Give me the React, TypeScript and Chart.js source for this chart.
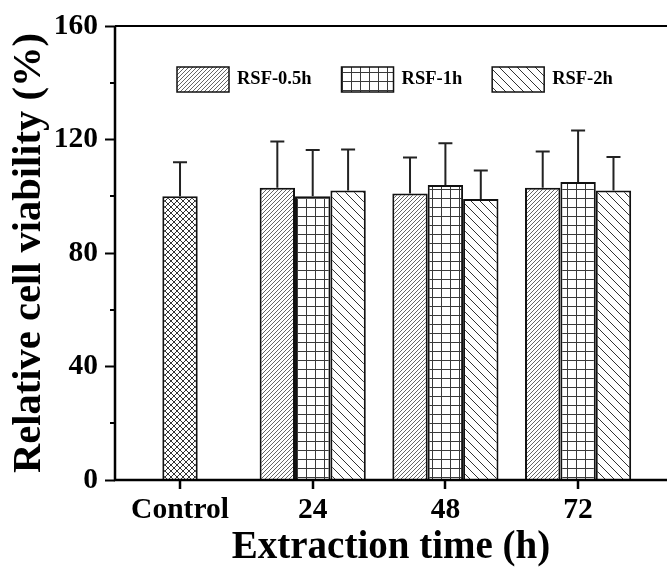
import React, { useEffect, useRef } from 'react';
import { Chart, registerables } from 'chart.js';

Chart.register(...registerables);

const categories = ['Control', '24', '48', '72'];
const seriesLabels = ['Control', 'RSF-0.5h', 'RSF-1h', 'RSF-2h'];
const controlValues = [100, null, null, null];
const controlErrors = [12, null, null, null];
const rsf05Values = [null, 103, 101, 103];
const rsf05Errors = [null, 16.3, 12.7, 12.8];
const rsf1Values = [null, 100, 104, 105];
const rsf1Errors = [null, 16.3, 14.7, 18.2];
const rsf2Values = [null, 102, 99, 102];
const rsf2Errors = [null, 14.5, 10.1, 11.8];
const yMinorTicks = [20, 60, 100, 140];
const xTitle = 'Extraction time (h)';
const yTitle = 'Relative cell viability (%)';

const FONT = "'Liberation Serif', 'Times New Roman', Times, serif";

function makePattern(kind: string): CanvasPattern | string {
  const c = document.createElement('canvas');
  let s = 6;
  if (kind === 'fwd') s = 4;
  if (kind === 'back') s = 9;
  if (kind === 'grid') s = 9;
  c.width = s;
  c.height = s;
  const ctx = c.getContext('2d');
  if (!ctx) return '#fff';
  ctx.fillStyle = '#fff';
  ctx.fillRect(0, 0, s, s);
  ctx.lineWidth = 1;
  const fwd = (col: string) => {
    ctx.strokeStyle = col;
    ctx.beginPath();
    ctx.moveTo(0, s); ctx.lineTo(s, 0);
    ctx.moveTo(-1, 1); ctx.lineTo(1, -1);
    ctx.moveTo(s - 1, s + 1); ctx.lineTo(s + 1, s - 1);
    ctx.stroke();
  };
  const back = (col: string) => {
    ctx.strokeStyle = col;
    ctx.beginPath();
    ctx.moveTo(0, 0); ctx.lineTo(s, s);
    ctx.moveTo(-1, s - 1); ctx.lineTo(1, s + 1);
    ctx.moveTo(s - 1, -1); ctx.lineTo(s + 1, 1);
    ctx.stroke();
  };
  if (kind === 'cross') { fwd('#333'); back('#333'); }
  if (kind === 'fwd') fwd('#666');
  if (kind === 'back') back('#333');
  if (kind === 'grid') {
    ctx.strokeStyle = '#3a3a3a';
    ctx.beginPath();
    ctx.moveTo(0.5, 0); ctx.lineTo(0.5, s);
    ctx.moveTo(0, 0.5); ctx.lineTo(s, 0.5);
    ctx.stroke();
  }
  return ctx.createPattern(c, 'repeat') || '#fff';
}

export default function App() {
  const ref = useRef<HTMLCanvasElement | null>(null);
  useEffect(() => {
    const canvas = ref.current;
    if (!canvas) return;
    const valueSets = [controlValues, rsf05Values, rsf1Values, rsf2Values];
    const errorSets = [controlErrors, rsf05Errors, rsf1Errors, rsf2Errors];
    const kinds = ['cross', 'fwd', 'grid', 'back'];
    const patterns = kinds.map(makePattern);

    const datasets = valueSets.map((vals, di) => ({
      label: seriesLabels[di],
      data: vals.map((v, i) => ({ x: i, y: v })),
      backgroundColor: patterns[di],
      borderColor: '#111',
      borderWidth: 2,
      barPercentage: di === 0 ? 1 / 3 : 1,
      categoryPercentage: 0.8,
      skipNull: true,
    }));

    const framePlugin = {
      id: 'framePlugin',
      afterDatasetsDraw(chart: any) {
        const { ctx, chartArea, scales } = chart;
        const ys = scales.y;
        const xs = scales.x;
        ctx.save();
        // error bars
        chart.data.datasets.forEach((ds: any, di: number) => {
          const meta = chart.getDatasetMeta(di);
          meta.data.forEach((el: any, i: number) => {
            const v = valueSets[di][i];
            const e = errorSets[di][i];
            if (v == null || e == null) return;
            const yTop = ys.getPixelForValue(v + e);
            const yBar = ys.getPixelForValue(v);
            ctx.strokeStyle = '#222';
            ctx.lineWidth = 2;
            ctx.beginPath();
            ctx.moveTo(el.x, yBar);
            ctx.lineTo(el.x, yTop);
            ctx.moveTo(el.x - 7, yTop);
            ctx.lineTo(el.x + 7, yTop);
            ctx.stroke();
          });
        });
        // axes and frame
        ctx.strokeStyle = '#000';
        ctx.lineWidth = 2.5;
        ctx.beginPath();
        ctx.moveTo(chartArea.left, chartArea.top);
        ctx.lineTo(chartArea.left, chartArea.bottom + 1.25);
        ctx.moveTo(chartArea.left - 1.25, chartArea.bottom);
        ctx.lineTo(chartArea.right, chartArea.bottom);
        ctx.stroke();
        ctx.lineWidth = 2;
        ctx.beginPath();
        ctx.moveTo(chartArea.left, chartArea.top);
        ctx.lineTo(chartArea.right, chartArea.top);
        ctx.stroke();
        // minor y ticks and x ticks
        ctx.lineWidth = 2;
        ctx.beginPath();
        yMinorTicks.forEach((t) => {
          const y = Math.round(ys.getPixelForValue(t));
          ctx.moveTo(chartArea.left - 5, y);
          ctx.lineTo(chartArea.left, y);
        });
        ctx.stroke();
        ctx.lineWidth = 2.5;
        ctx.beginPath();
        categories.forEach((_, i) => {
          const px = Math.round(xs.getPixelForValue(i));
          ctx.moveTo(px, chartArea.bottom);
          ctx.lineTo(px, chartArea.bottom + 9);
        });
        ctx.stroke();
        // legend
        let x = 177;
        const by = 67;
        ctx.font = `bold 18.5px ${FONT}`;
        ctx.textBaseline = 'alphabetic';
        ctx.textAlign = 'left';
        for (let di = 1; di < chart.data.datasets.length; di++) {
          const ds = chart.data.datasets[di];
          ctx.fillStyle = ds.backgroundColor;
          ctx.fillRect(x, by, 52, 25);
          ctx.strokeStyle = '#111';
          ctx.lineWidth = 1.5;
          ctx.strokeRect(x, by, 52, 25);
          ctx.fillStyle = '#000';
          ctx.fillText(ds.label, x + 60, by + 17);
          x += 60 + ctx.measureText(ds.label).width + 30;
        }
        ctx.restore();
      },
    };

    const chart = new Chart(canvas, {
      type: 'bar',
      data: { datasets: datasets as any },
      options: {
        animation: false,
        responsive: false,
        maintainAspectRatio: false,
        devicePixelRatio: 1,
        layout: { padding: { left: 0, right: 0, top: 26, bottom: 0 } },
        plugins: { legend: { display: false }, tooltip: { enabled: false } },
        scales: {
          x: {
            type: 'linear',
            offset: false,
            min: -0.49,
            max: 3.67,
            afterBuildTicks: (scale: any) => {
              scale.ticks = categories.map((_, i) => ({ value: i }));
            },
            afterFit: (scale: any) => { scale.height = 87; },
            ticks: {
              callback: (v: any) => categories[Math.round(Number(v))] ?? '',
              font: { family: FONT, size: 29.5, weight: 'bold' },
              color: '#000',
              padding: 5,
              maxRotation: 0,
              autoSkip: false,
            },
            grid: { display: true, offset: false, drawOnChartArea: false, drawTicks: true, tickLength: 8, tickWidth: 0, tickColor: 'rgba(0,0,0,0)' },
            border: { display: false },
            title: {
              display: true,
              text: xTitle,
              font: { family: FONT, size: 39, weight: 'bold', lineHeight: 1 },
              color: '#000',
              padding: { top: 0, bottom: 0 },
            },
          },
          y: {
            type: 'linear',
            min: 0,
            max: 160,
            afterFit: (scale: any) => { scale.width = 115; },
            ticks: {
              stepSize: 40,
              font: { family: FONT, size: 29.5, weight: 'bold' },
              color: '#000',
              padding: 7,
            },
            grid: { display: true, drawOnChartArea: false, drawTicks: true, tickLength: 10, tickWidth: 2, tickColor: '#000' },
            border: { display: false },
            title: {
              display: true,
              text: yTitle,
              font: { family: FONT, size: 40.5, weight: 'bold' },
              color: '#000',
              padding: { top: 5, bottom: 0 },
            },
          },
        },
      } as any,
      plugins: [framePlugin],
    });
    return () => chart.destroy();
  }, []);

  return (
    <div style={{ position: 'absolute', left: 0, top: 0, width: 667, height: 567, background: '#fff' }}>
      <canvas ref={ref} width={667} height={567} style={{ display: 'block' }} />
    </div>
  );
}
